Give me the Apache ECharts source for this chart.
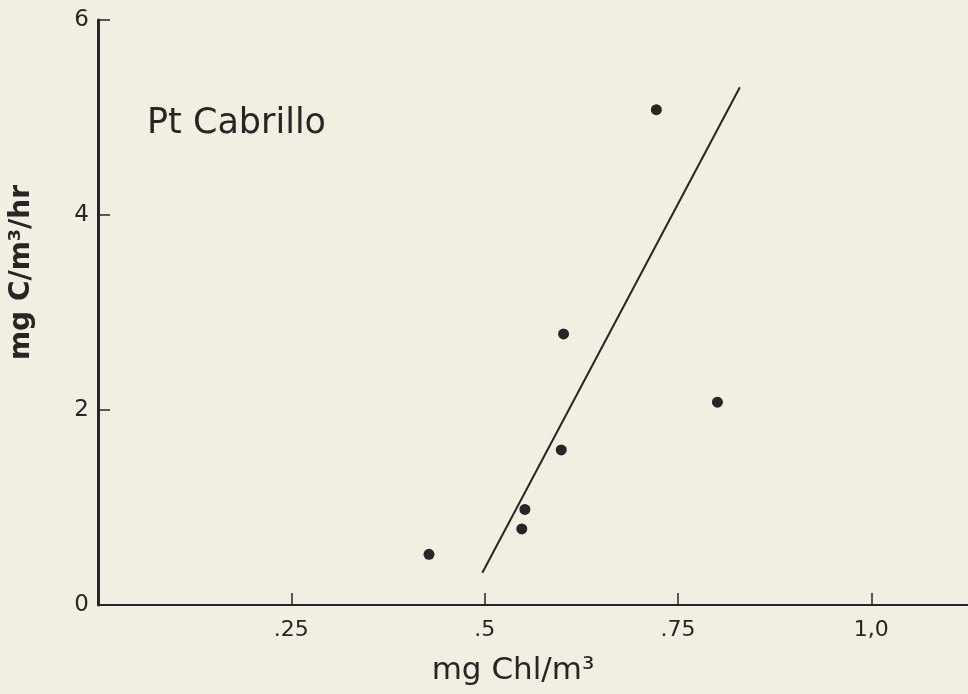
<!DOCTYPE html>
<html>
<head>
<meta charset="utf-8">
<script src="https://cdn.jsdelivr.net/npm/echarts@6/dist/echarts.min.js"></script>
<style>
html,body{margin:0;padding:0;background:#f2efe2;}
#c{width:968px;height:694px;}
</style>
</head>
<body>
<div id="c"></div>
<script>
// Data
const chlValues = [0.428, 0.548, 0.552, 0.599, 0.602, 0.722, 0.801];
const prodValues = [0.52, 0.78, 0.98, 1.59, 2.78, 5.08, 2.08];
const fitX = [0.497, 0.830];
const fitY = [0.33, 5.31];
const xTicks = [0.25, 0.5, 0.75, 1.0];
const xTickLabels = ['.25', '.5', '.75', '1,0'];
const yTickLabels = ['0', '2', '4', '6'];

const ink = '#2a2426';
const points = chlValues.map((v, i) => [v, prodValues[i]]);
const fitLine = fitX.map((v, i) => [v, fitY[i]]);

const chart = echarts.init(document.getElementById('c'));
chart.setOption({
  backgroundColor: '#f2efe2',
  animation: false,
  grid: {left: 97, right: 0, top: 20, bottom: 89, containLabel: false},
  xAxis: {
    type: 'value', min: 0, max: 1.125, interval: 0.125,
    axisLine: {show: true, lineStyle: {color: ink, width: 2}},
    axisTick: {show: true, inside: true, length: 12, lineStyle: {color: ink, width: 1.5},
      customValues: xTicks},
    axisLabel: {show: true, margin: 14, color: ink, fontSize: 22, fontFamily: 'DejaVu Sans',
      customValues: xTicks,
      formatter: v => { const i = xTicks.findIndex(t => Math.abs(t - v) < 1e-6); return i >= 0 ? xTickLabels[i] : ''; }},
    splitLine: {show: false},
    name: 'mg Chl/m³', nameLocation: 'middle', nameGap: 50,
    nameTextStyle: {color: ink, fontSize: 31, fontFamily: 'DejaVu Sans', padding: [0, 40, 0, 0]}
  },
  yAxis: {
    type: 'value', min: 0, max: 6, interval: 2,
    axisLine: {show: true, lineStyle: {color: ink, width: 3}},
    axisTick: {show: true, inside: true, length: 12, lineStyle: {color: ink, width: 1.5}},
    axisLabel: {show: true, margin: 9, color: ink, fontSize: 23, fontFamily: 'DejaVu Sans',
      formatter: v => yTickLabels[Math.round(v / 2)]},
    splitLine: {show: false},
    name: 'mg C/m³/hr', nameLocation: 'middle', nameGap: 62, nameRotate: 90,
    nameTextStyle: {color: ink, fontSize: 28, fontWeight: 'bold', fontFamily: 'DejaVu Sans', padding: [0, 0, 0, 80]}
  },
  graphic: [{
    type: 'text', left: 147, top: 106,
    style: {text: 'Pt Cabrillo', fill: ink, font: '500 35px "DejaVu Sans"'}
  }],
  series: [
    {type: 'line', data: fitLine, symbol: 'none', lineStyle: {color: ink, width: 2}, silent: true},
    {type: 'scatter', data: points, symbol: 'circle', symbolSize: 11, itemStyle: {color: ink, opacity: 1}}
  ]
});
</script>
</body>
</html>
